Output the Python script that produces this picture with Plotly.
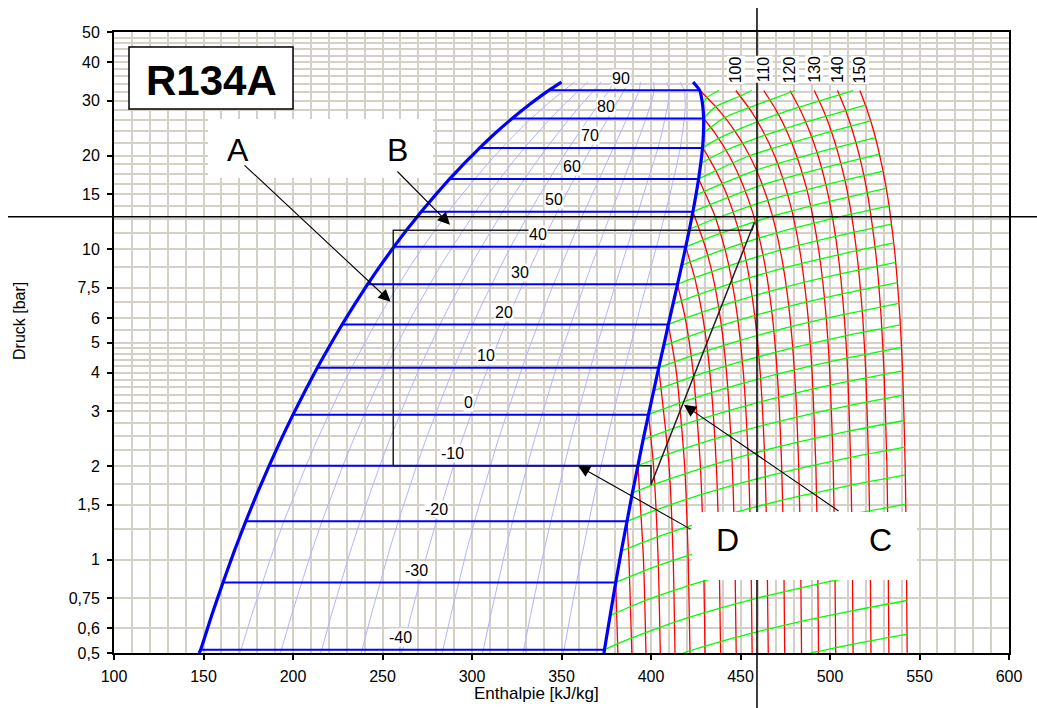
import math
import plotly.graph_objects as go

# ---------------------------------------------------------------------------
# R134a saturation table (IIR reference: h = 200 kJ/kg for liquid at 0 °C)
# ---------------------------------------------------------------------------
SAT_T = [-40.7, -40, -35, -30, -25, -20, -15, -10, -5, 0, 5, 10, 15, 20, 25,
         30, 35, 40, 45, 50, 55, 60, 65, 70, 75, 80, 85, 90, 93]
SAT_P = [0.500, 0.5121, 0.6614, 0.8438, 1.0640, 1.3273, 1.6394, 2.0060, 2.4334,
         2.9280, 3.4966, 4.1461, 4.8837, 5.7171, 6.6538, 7.7020, 8.8698, 10.166,
         11.599, 13.179, 14.915, 16.818, 18.898, 21.168, 23.641, 26.332, 29.258,
         32.442, 34.50]
SAT_HF = [147.5, 148.4, 154.6, 160.9, 167.2, 173.6, 180.1, 186.7, 193.3, 200.0,
          206.8, 213.6, 220.5, 227.5, 234.6, 241.7, 249.0, 256.4, 263.9, 271.6,
          279.5, 287.5, 295.8, 304.3, 313.1, 322.4, 332.3, 342.9, 350.0]
SAT_HG = [373.7, 374.0, 377.2, 380.3, 383.4, 386.6, 389.6, 392.7, 395.6, 398.6,
          401.5, 404.3, 407.1, 409.7, 412.3, 414.8, 417.2, 419.4, 421.5, 423.4,
          425.1, 426.6, 427.8, 428.8, 429.3, 429.4, 428.8, 427.2, 423.5]

# labelled isotherms inside the wet-vapour dome and where their labels sit
LABELLED_T = [-40, -30, -20, -10, 0, 10, 20, 30, 40, 50, 60, 70, 80, 90]
LABEL_H = [260, 269, 280, 289, 298, 308, 318, 327, 337, 346, 356, 366, 375, 383]

# vapour quality lines
QUALITY = [0.1, 0.2, 0.3, 0.4, 0.5, 0.6, 0.7, 0.8, 0.9]

# ---------------------------------------------------------------------------
# superheated isotherms: enthalpy [kJ/kg] at the pressure levels below,
# each row stops before the saturation pressure of that temperature
# ---------------------------------------------------------------------------
P_LEVELS = [0.5, 1, 2, 4, 6, 8, 10, 13, 16, 20, 24, 28, 32.4]

H_T_M40 = [374.1]
H_T_M30 = [381.5]
H_T_M20 = [389.3, 387.7]
H_T_M10 = [397.2, 395.8]
H_T_0 = [405.2, 404.0, 401.4]
H_T_10 = [413.4, 412.4, 410.1]
H_T_20 = [421.8, 420.8, 418.8, 414.2]
H_T_30 = [430.2, 429.4, 427.6, 423.6, 419.1]
H_T_40 = [438.9, 438.1, 436.5, 432.9, 429.0, 424.6]
H_T_50 = [447.6, 446.9, 445.4, 442.2, 438.7, 434.9, 430.7]
H_T_60 = [456.5, 455.9, 454.5, 451.6, 448.4, 445.0, 441.3, 435.2]
H_T_70 = [465.5, 464.9, 463.7, 461.0, 458.1, 455.0, 451.7, 446.2, 440.3, 431.6]
H_T_80 = [474.7, 474.2, 473.0, 470.5, 467.9, 465.0, 461.9, 457.0, 451.5, 443.6, 434.9]
H_T_90 = [484.1, 483.6, 482.5, 480.2, 477.7, 475.0, 472.1, 467.5, 462.4, 455.0, 446.8, 437.9]
H_T_100 = [493.6, 493.1, 492.1, 490.0, 487.8, 485.4, 483.0, 479.1, 474.9, 469.0, 462.5, 455.6, 447.4]
H_T_110 = [503.2, 502.7, 501.8, 499.9, 497.9, 495.8, 493.6, 490.1, 486.5, 481.3, 475.8, 469.9, 463.0]
H_T_120 = [512.9, 512.5, 511.6, 509.9, 508.0, 506.1, 504.1, 501.0, 497.8, 493.3, 488.5, 483.5, 477.6]
H_T_130 = [522.9, 522.5, 521.6, 520.0, 518.3, 516.5, 514.7, 511.9, 509.0, 504.9, 500.7, 496.3, 491.2]
H_T_140 = [532.9, 532.5, 531.8, 530.2, 528.6, 527.0, 525.3, 522.7, 520.1, 516.4, 512.6, 508.7, 504.2]
H_T_150 = [543.1, 542.7, 542.0, 540.6, 539.1, 537.5, 536.0, 533.6, 531.2, 527.8, 524.4, 520.8, 516.7]

SUPERHEAT = [(-40, H_T_M40), (-30, H_T_M30), (-20, H_T_M20), (-10, H_T_M10),
             (0, H_T_0), (10, H_T_10), (20, H_T_20), (30, H_T_30), (40, H_T_40),
             (50, H_T_50), (60, H_T_60), (70, H_T_70), (80, H_T_80), (90, H_T_90),
             (100, H_T_100), (110, H_T_110), (120, H_T_120), (130, H_T_130),
             (140, H_T_140), (150, H_T_150)]
TOP_LABELLED_T = [100, 110, 120, 130, 140, 150]

# ---------------------------------------------------------------------------
# isochores (h [kJ/kg], p [bar]), named after the saturation temperature
# at which they leave the dew line
# ---------------------------------------------------------------------------
ISO_V_M50 = [(489.3, 0.500), (512.9, 0.534), (543.0, 0.575)]
ISO_V_M45 = [(418.0, 0.500), (430.2, 0.526), (456.4, 0.579), (483.9, 0.632), (512.8, 0.685), (542.9, 0.738)]
ISO_V_M40 = [(374.0, 0.512), (381.4, 0.536), (405.0, 0.605), (429.9, 0.674), (456.2, 0.743), (483.8, 0.811), (512.6, 0.880), (542.8, 0.948)]
ISO_V_M35 = [(377.2, 0.661), (388.6, 0.706), (404.6, 0.766), (429.6, 0.854), (455.9, 0.942), (483.5, 1.029), (512.4, 1.116), (542.6, 1.203)]
ISO_V_M30 = [(380.3, 0.844), (404.2, 0.957), (429.3, 1.069), (455.6, 1.179), (483.2, 1.290), (512.2, 1.400), (542.4, 1.509)]
ISO_V_M25 = [(383.4, 1.064), (403.6, 1.182), (428.8, 1.322), (455.2, 1.461), (482.9, 1.599), (511.9, 1.736), (542.1, 1.873)]
ISO_V_M20 = [(386.6, 1.327), (402.9, 1.445), (428.3, 1.620), (454.8, 1.792), (482.5, 1.963), (511.5, 2.133), (541.8, 2.302)]
ISO_V_M15 = [(389.6, 1.639), (402.1, 1.749), (427.7, 1.964), (454.3, 2.177), (482.0, 2.387), (511.1, 2.596), (541.4, 2.804)]
ISO_V_M10 = [(392.7, 2.006), (401.1, 2.096), (426.9, 2.360), (453.6, 2.619), (481.5, 2.876), (510.6, 3.131), (541.0, 3.385)]
ISO_V_M5 = [(395.6, 2.433), (400.0, 2.488), (426.0, 2.811), (452.9, 3.126), (480.8, 3.438), (510.1, 3.747), (540.5, 4.054)]
ISO_V_0 = [(398.6, 2.928), (407.4, 3.060), (425.0, 3.320), (452.0, 3.703), (480.1, 4.080), (509.4, 4.452), (540.0, 4.822)]
ISO_V_5 = [(401.5, 3.497), (423.8, 3.891), (451.1, 4.352), (479.2, 4.805), (508.7, 5.252), (539.3, 5.695)]
ISO_V_10 = [(404.3, 4.146), (422.5, 4.525), (449.9, 5.080), (478.1, 5.622), (507.9, 6.157), (538.5, 6.685)]
ISO_V_15 = [(407.1, 4.884), (420.9, 5.225), (448.6, 5.889), (477.0, 6.537), (506.9, 7.173), (537.7, 7.801)]
ISO_V_20 = [(409.7, 5.717), (419.1, 5.989), (447.1, 6.783), (475.6, 7.554), (505.8, 8.310), (536.7, 9.056)]
ISO_V_25 = [(412.3, 6.654), (417.1, 6.815), (445.4, 7.763), (474.0, 8.681), (504.5, 9.577), (535.6, 10.459)]
ISO_V_30 = [(414.8, 7.702), (424.4, 8.084), (443.5, 8.831), (472.2, 9.919), (503.1, 10.979), (534.4, 12.019)]
ISO_V_35 = [(417.2, 8.870), (431.7, 9.548), (441.3, 9.989), (470.2, 11.281), (501.5, 12.535), (533.0, 13.763)]
ISO_V_40 = [(419.4, 10.166), (429.2, 10.701), (438.9, 11.226), (467.8, 12.758), (499.7, 14.241), (531.4, 15.688)]
ISO_V_45 = [(421.5, 11.599), (436.2, 12.540), (465.2, 14.356), (497.7, 16.106), (529.7, 17.810)]
ISO_V_50 = [(423.4, 13.179), (433.2, 13.929), (462.2, 16.106), (495.4, 18.193), (527.6, 20.218)]
ISO_V_55 = [(425.1, 14.915), (439.8, 16.244), (458.8, 17.962), (492.8, 20.444), (525.4, 22.845)]
ISO_V_60 = [(426.6, 16.818), (436.3, 17.889), (455.0, 19.970), (489.8, 22.963), (522.7, 25.846)]
ISO_V_65 = [(427.8, 18.898), (441.9, 20.805), (463.7, 23.269), (486.5, 25.646), (519.8, 29.096)]
ISO_V_70 = [(428.8, 21.168), (437.8, 22.718), (459.6, 25.731), (482.6, 28.628), (513.0, 32.4)]
ISO_V_75 = [(429.3, 23.641), (441.3, 26.539), (466.5, 30.224), (480.6, 32.4)]
ISO_V_80 = [(429.4, 26.332), (436.2, 28.750), (449.9, 31.100), (456.2, 32.4)]
ISO_V_85 = [(428.8, 29.258), (431.3, 30.780), (437.9, 32.4)]

ISOCHORES = [ISO_V_M50, ISO_V_M45, ISO_V_M40, ISO_V_M35, ISO_V_M30, ISO_V_M25,
             ISO_V_M20, ISO_V_M15, ISO_V_M10, ISO_V_M5, ISO_V_0, ISO_V_5,
             ISO_V_10, ISO_V_15, ISO_V_20, ISO_V_25, ISO_V_30, ISO_V_35,
             ISO_V_40, ISO_V_45, ISO_V_50, ISO_V_55, ISO_V_60, ISO_V_65,
             ISO_V_70, ISO_V_75, ISO_V_80, ISO_V_85]

# refrigeration cycle
CYCLE_H = [256.0, 400.0, 400.0, 457.8, 456.4, 256.0, 256.0]
CYCLE_P = [2.006, 2.006, 1.74, 12.2, 11.5, 11.5, 2.006]

# crosshair through the compressor outlet
CROSS_H = 459.2
CROSS_P = 12.7

# callouts: letter, arrow tip (h, p), arrow tail (h, p)
CALLOUTS = ["A", "B", "C", "D"]
TIP_H = [254.5, 287.7, 418.4, 359.2]
TIP_P = [6.77, 11.98, 3.15, 2.006]
TAIL_H = [172.1, 257.5, 505.6, 422.9]
TAIL_P = [18.8, 17.97, 1.423, 1.245]

# axes
X_TICKS = [100, 150, 200, 250, 300, 350, 400, 450, 500, 550, 600]
Y_TICKS = [0.5, 0.6, 0.75, 1, 1.5, 2, 3, 4, 5, 6, 7.5, 10, 15, 20, 30, 40, 50]
Y_TICKTEXT = ["0,5", "0,6", "0,75", "1", "1,5", "2", "3", "4", "5", "6", "7,5",
              "10", "15", "20", "30", "40", "50"]
Y_GRID = [1.25, 1.75, 2.25, 2.5, 2.75, 3.2, 3.4, 3.6, 3.8, 4.2, 4.4, 4.6, 4.8,
          5.5, 6.75, 8.75, 11.25, 12.5, 13.75, 16.25, 17.5, 18.75, 22, 24, 26,
          28, 32, 34, 36, 38, 42, 44, 46, 48]
X_GRID = list(range(110, 600, 10))

# ---------------------------------------------------------------------------
W, H = 1037, 708
PLOT_L, PLOT_R, PLOT_T, PLOT_B = 114, 1009, 32, 653
P_MIN, P_MAX = 0.5, 50.0
FONT = "Liberation Sans, Arial, sans-serif"
GRID_COLOR = "#D4D0C8"


def px_x(x):
    return (x - PLOT_L) / (PLOT_R - PLOT_L)


def px_y(y):
    return (PLOT_B - y) / (PLOT_B - PLOT_T)


def paper_from_p(p):
    return (math.log10(p) - math.log10(P_MIN)) / (math.log10(P_MAX) - math.log10(P_MIN))


fig = go.Figure()

# quality lines in the wet-vapour region
for q in QUALITY:
    hq = [hf + q * (hg - hf) for hf, hg in zip(SAT_HF, SAT_HG)]
    fig.add_trace(go.Scatter(x=hq, y=SAT_P, mode="lines",
                             line=dict(color="#B4B4FF", width=1),
                             hoverinfo="skip", showlegend=False))

# superheated isotherms (red)
for t, row in SUPERHEAT:
    hs = list(row)
    ps = P_LEVELS[:len(row)]
    if t in SAT_T:
        i = SAT_T.index(t)
        hs = hs + [SAT_HG[i]]
        ps = ps + [SAT_P[i]]
    fig.add_trace(go.Scatter(x=hs, y=ps, mode="lines",
                             line=dict(color="#FF0000", width=1.3, shape="spline", smoothing=0.6),
                             hoverinfo="skip", showlegend=False))

# isochores (green)
for line in ISOCHORES:
    fig.add_trace(go.Scatter(x=[pt[0] for pt in line], y=[pt[1] for pt in line],
                             mode="lines",
                             line=dict(color="#00FF00", width=1.3, shape="spline", smoothing=0.6),
                             hoverinfo="skip", showlegend=False))

# isotherms across the dome (blue)
for t in LABELLED_T:
    i = SAT_T.index(t)
    fig.add_trace(go.Scatter(x=[SAT_HF[i], SAT_HG[i]], y=[SAT_P[i], SAT_P[i]],
                             mode="lines", line=dict(color="#0000FF", width=2),
                             hoverinfo="skip", showlegend=False))

# bubble and dew lines
fig.add_trace(go.Scatter(x=SAT_HF, y=SAT_P, mode="lines",
                         line=dict(color="#0000FF", width=3.2, shape="spline", smoothing=0.4),
                         hoverinfo="skip", showlegend=False))
fig.add_trace(go.Scatter(x=SAT_HG, y=SAT_P, mode="lines",
                         line=dict(color="#0000FF", width=3.2, shape="spline", smoothing=0.4),
                         hoverinfo="skip", showlegend=False))

# cycle
fig.add_trace(go.Scatter(x=CYCLE_H, y=CYCLE_P, mode="lines",
                         line=dict(color="#202020", width=1.5),
                         hoverinfo="skip", showlegend=False))

shapes = []
# crosshair
shapes.append(dict(type="line", xref="paper", yref="paper",
                   x0=px_x(8), x1=px_x(W), y0=paper_from_p(CROSS_P), y1=paper_from_p(CROSS_P),
                   line=dict(color="black", width=1.5), layer="above"))
shapes.append(dict(type="line", xref="x", yref="paper",
                   x0=CROSS_H, x1=CROSS_H, y0=px_y(H), y1=px_y(8),
                   line=dict(color="black", width=1.5), layer="above"))
# white label panels
shapes.append(dict(type="rect", xref="paper", yref="paper",
                   x0=px_x(208), x1=px_x(433), y0=px_y(178), y1=px_y(119),
                   fillcolor="white", line=dict(width=0), layer="above"))
shapes.append(dict(type="rect", xref="paper", yref="paper",
                   x0=px_x(692), x1=px_x(917), y0=px_y(580), y1=px_y(512),
                   fillcolor="white", line=dict(width=0), layer="above"))
# title frame
shapes.append(dict(type="rect", xref="paper", yref="paper",
                   x0=px_x(129), x1=px_x(293), y0=px_y(109), y1=px_y(47),
                   fillcolor="white", line=dict(color="black", width=1.5), layer="above"))

annotations = []
annotations.append(dict(text="<b>R134A</b>", xref="paper", yref="paper",
                        x=px_x(211), y=px_y(80), showarrow=False,
                        font=dict(family=FONT, size=42, color="black"),
                        xanchor="center", yanchor="middle"))

# isotherm labels in the dome
for t, hl in zip(LABELLED_T, LABEL_H):
    i = SAT_T.index(t)
    annotations.append(dict(text=str(t), x=hl, y=math.log10(SAT_P[i]),
                            xref="x", yref="y", showarrow=False, yshift=12,
                            bgcolor="white", borderpad=0,
                            font=dict(family=FONT, size=16, color="black")))

# rotated labels on top of the superheated isotherms
for t, row in SUPERHEAT:
    if t in TOP_LABELLED_T:
        annotations.append(dict(text=str(t), x=row[-1], y=math.log10(P_LEVELS[len(row) - 1]),
                                xref="x", yref="y", showarrow=False, yshift=21,
                                textangle=-90, bgcolor="white", borderpad=0,
                                font=dict(family=FONT, size=16, color="black")))

# callout arrows
for th, tp, ah, ap in zip(TIP_H, TIP_P, TAIL_H, TAIL_P):
    annotations.append(dict(text="", x=th, y=math.log10(tp), xref="x", yref="y",
                            ax=ah, ay=math.log10(ap), axref="x", ayref="y",
                            showarrow=True, arrowhead=2, arrowsize=2.2, arrowwidth=1.1,
                            arrowcolor="black", standoff=0, startstandoff=0))

# callout letters
LETTER_POS = {"A": (238, 150), "B": (397, 150), "C": (880, 540), "D": (727, 540)}
for letter in CALLOUTS:
    lx, ly = LETTER_POS[letter]
    annotations.append(dict(text=letter, xref="paper", yref="paper",
                            x=px_x(lx), y=px_y(ly), showarrow=False,
                            font=dict(family=FONT, size=32, color="black"),
                            xanchor="center", yanchor="middle"))

# axis titles
annotations.append(dict(text="Enthalpie [kJ/kg]", xref="paper", yref="paper",
                        x=px_x(536), y=px_y(693), showarrow=False,
                        font=dict(family=FONT, size=17, color="black"),
                        xanchor="center", yanchor="middle"))
annotations.append(dict(text="Druck [bar]", xref="paper", yref="paper",
                        x=px_x(19), y=px_y(321), showarrow=False, textangle=-90,
                        font=dict(family=FONT, size=16, color="black"),
                        xanchor="center", yanchor="middle"))

fig.update_layout(
    width=W, height=H,
    margin=dict(l=PLOT_L, r=W - PLOT_R, t=PLOT_T, b=H - PLOT_B, pad=0),
    paper_bgcolor="white", plot_bgcolor="white",
    showlegend=False,
    font=dict(family=FONT, size=16, color="black"),
    shapes=shapes, annotations=annotations,
    xaxis=dict(range=[100, 600], tickvals=X_TICKS, ticks="outside", ticklen=5,
               tickwidth=1.5, tickcolor="black", showline=True, linecolor="black",
               linewidth=2, mirror=True, showgrid=True, gridcolor=GRID_COLOR,
               gridwidth=2, zeroline=False, ticklabelstandoff=3,
               tickfont=dict(family=FONT, size=16, color="black"),
               minor=dict(tickvals=X_GRID, showgrid=True, gridcolor=GRID_COLOR,
                          gridwidth=2, ticks="")),
    yaxis=dict(type="log", range=[math.log10(P_MIN), math.log10(P_MAX)],
               tickvals=Y_TICKS, ticktext=Y_TICKTEXT, ticks="outside", ticklen=5,
               tickwidth=1.5, tickcolor="black", showline=True, linecolor="black",
               linewidth=2, mirror=True, showgrid=True, gridcolor=GRID_COLOR,
               gridwidth=2, zeroline=False, ticklabelstandoff=4,
               tickfont=dict(family=FONT, size=16, color="black"),
               minor=dict(tickvals=Y_GRID, showgrid=True, gridcolor=GRID_COLOR,
                          gridwidth=2, ticks="")),
)

fig.write_html("out.html")
